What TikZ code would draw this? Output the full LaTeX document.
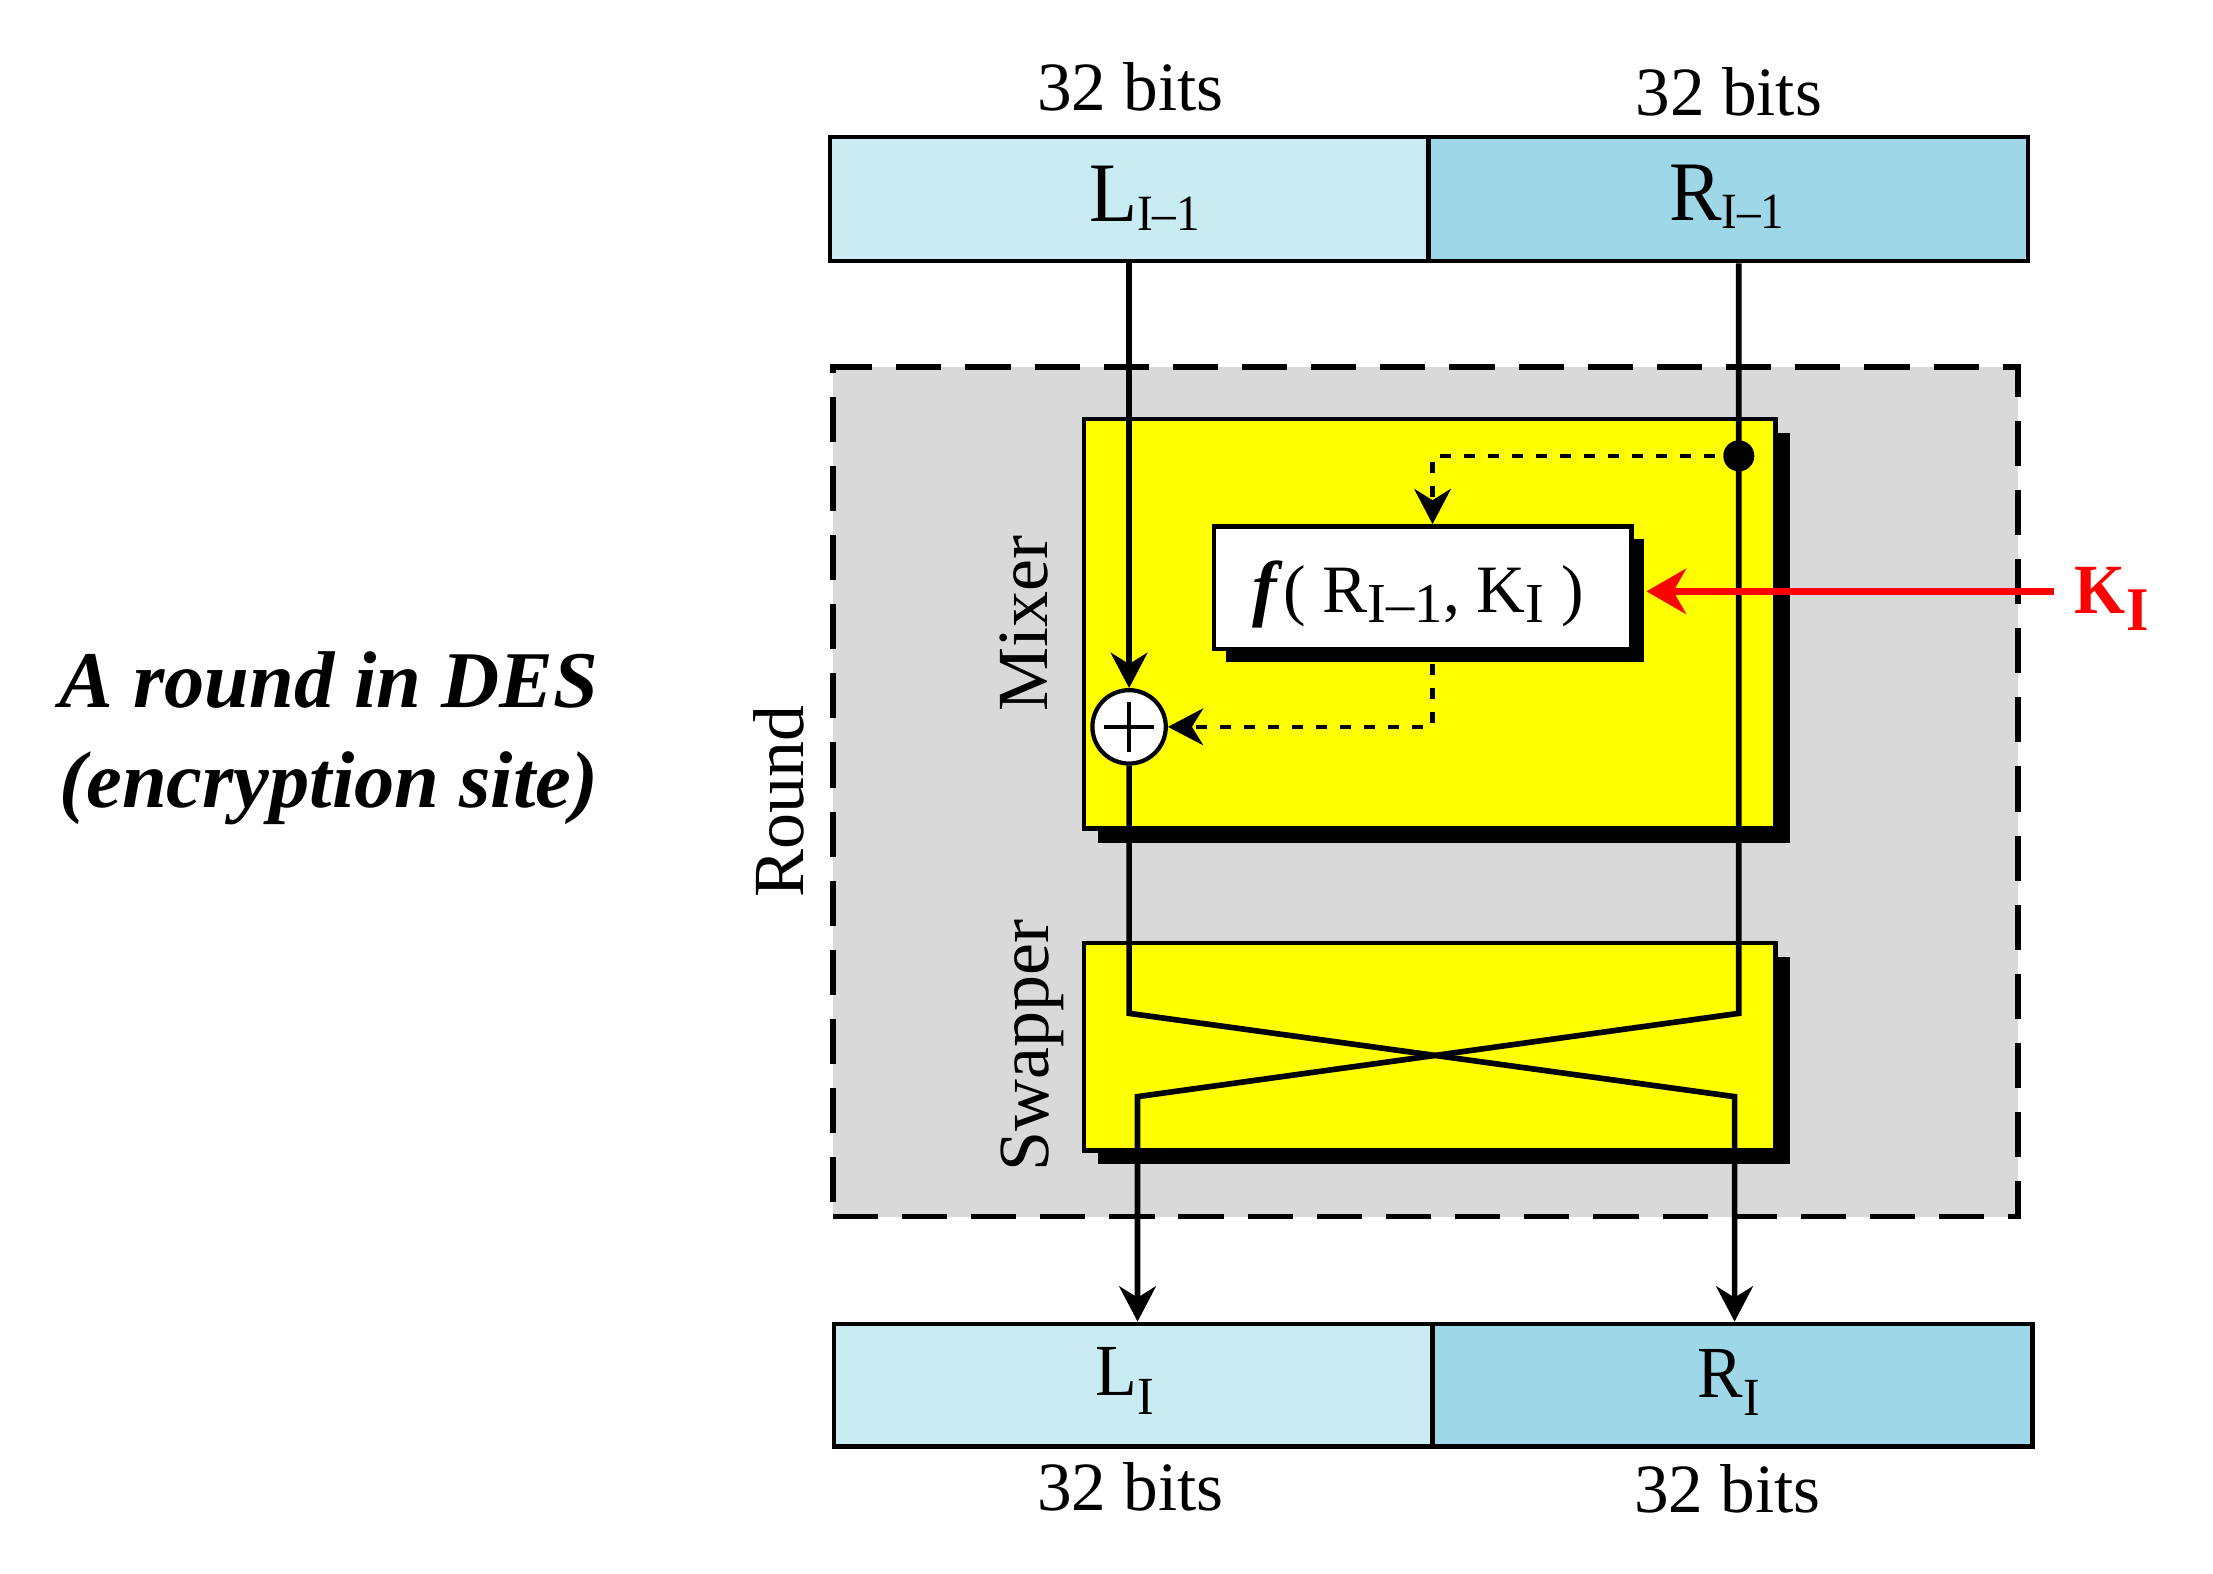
\documentclass[tikz,border=0pt]{standalone}
\usepackage{fontspec}
\setmainfont{Liberation Serif}
\newfontfamily\cond[FakeStretch=0.93]{Liberation Serif}
\usetikzlibrary{arrows.meta,shadows}
\definecolor{lcyan}{HTML}{C9EBF2}
\definecolor{dcyan}{HTML}{9ED8E8}
\definecolor{rgray}{HTML}{D9D9D9}
\definecolor{yel}{HTML}{FFFF00}
\newcommand\sbx[3]{\raisebox{-#1pt}{\fontsize{#2}{#2}\selectfont #3}}
\begin{document}
\begin{tikzpicture}[x=1pt,y=-1pt,
  halfbox/.style={draw,line width=3.2pt,minimum height=88pt,inner sep=0},
  stage/.style={draw,line width=3.2pt,fill=yel,inner sep=0,
    drop shadow={shadow xshift=10pt,shadow yshift=-10pt,fill=black,opacity=1}},
  conn/.style={line width=4pt},
  tip/.style={-{Stealth[length=25pt,width=26pt,inset=8pt]}},
  dsh/.style={line width=3.2pt,dash pattern=on 8pt off 9pt},
  lbl/.style={inner sep=0,anchor=base,font=\fontsize{49}{59}\selectfont},
  rot/.style={rotate=90,anchor=base,inner sep=0,font=\fontsize{51}{61}\selectfont},
  ttl/.style={anchor=base,inner sep=0,font=\bfseries\itshape\fontsize{57}{68}\selectfont}]
\useasboundingbox (0,0) rectangle (1568,1115);

% round frame and stages
\node[fill=rgray,draw,line width=4pt,dash pattern=on 32pt off 17pt,
      minimum width=840pt,minimum height=602pt,inner sep=0] (round) at (1010,561) {};
\node[stage,minimum width=490pt,minimum height=290pt] (mixer) at (1013,442) {};
\node[stage,minimum width=490pt,minimum height=147pt] (swapper) at (1013,741.5) {};
\node[draw,line width=3.2pt,fill=white,inner sep=0,minimum width=296pt,minimum height=87pt,
      drop shadow={shadow xshift=9pt,shadow yshift=-9pt,fill=black,opacity=1}] (fbox) at (1008,416.5) {};

% input and output halves
\node[halfbox,fill=lcyan,minimum width=424pt] (Lin) at (800,141) {};
\node[halfbox,fill=dcyan,minimum width=425pt] (Rin) at (1224.5,141) {};
\node[halfbox,fill=lcyan,minimum width=424pt,minimum height=87pt] (Lout) at (803,981.5) {};
\node[halfbox,fill=dcyan,minimum width=425pt,minimum height=87pt] (Rout) at (1227.5,981.5) {};

% labels
\node[lbl] (b1) at (801,78) {32 bits};
\node[lbl] (b2) at (1225,81.5) {32 bits};
\node[lbl] (b3) at (801,1070) {32 bits};
\node[lbl] (b4) at (1224,1072) {32 bits};
\node[inner sep=0,anchor=base,font=\cond\fontsize{60}{70}\selectfont] (tL) at (811,157) {L\sbx{6}{36}{I–1}};
\node[inner sep=0,anchor=base,font=\cond\fontsize{60}{70}\selectfont] (tR) at (1223.5,156) {R\sbx{6}{36}{I–1}};
\node[inner sep=0,anchor=base,font=\cond\fontsize{52}{62}\selectfont] (oL) at (797,989) {L\sbx{13}{38}{I}};
\node[inner sep=0,anchor=base,font=\cond\fontsize{52}{62}\selectfont] (oR) at (1225,990) {R\sbx{13}{38}{I}};
\node[inner sep=0,anchor=base,font=\fontsize{48}{56}\selectfont] (ftext) at (1005,434)
  {{\fontsize{52}{52}\selectfont\textbf{\textit{f}}}( R\sbx{7}{40}{I–1}, K\sbx{7}{40}{I} )};
\node[anchor=base west,inner sep=0,text=red,font=\cond\bfseries\fontsize{50}{60}\selectfont] (klabel) at (1470,434.6) {K\sbx{12}{44}{I}};
\node[rot] (lround) at (569,568) {Round};
\node[rot] (lmixer) at (742,441.5) {Mixer};
\node[rot] (lswap) at (743,741) {Swapper};
\node[ttl] (t1) at (233,501) {A round in DES};
\node[ttl] (t2) at (233,572) {(encryption site)};

% junctions
\node[circle,fill=black,inner sep=0,minimum size=22pt] (dot) at (1232,323) {};
\node[circle,draw,line width=3pt,fill=white,inner sep=0,minimum size=52pt] (xor) at (800,515) {};
\draw[line width=3pt] (xor.center) ++(-17.5,0) -- ++(35,0) (xor.center) ++(0,-17.5) -- ++(0,35);

\coordinate (lturn) at (800,718);
\coordinate (ldiag) at (1229,777);
\coordinate (rturn) at (1232,718);
\coordinate (rdiag) at (806,777);
\coordinate (dc) at (1015,323);
\coordinate (db) at (1015,515);
\coordinate (kin) at (1455,419);
\coordinate (fb) at ([yshift=-9pt]fbox.south);
\coordinate (fe) at ([xshift=9pt]fbox.east);

% connectors
\draw[conn,tip] (Lin.south) -- (xor.north);
\draw[conn,tip] (Rin.south -| dot) -- (rturn) -- (rdiag) -- (rdiag |- Lout.north);
\draw[conn,tip] (xor.south) -- (lturn) -- (ldiag) -- (ldiag |- Rout.north);
\draw[dsh,tip] (dot.center) -- (dc) -- (dc |- fbox.north);
\draw[dsh,tip] (fb -| dc) -- (db) -- (xor.east);
\draw[line width=4.7pt,red,-{Stealth[length=28pt,width=32pt,inset=9pt]}] (kin) -- (fe |- kin);
\end{tikzpicture}
\end{document}
